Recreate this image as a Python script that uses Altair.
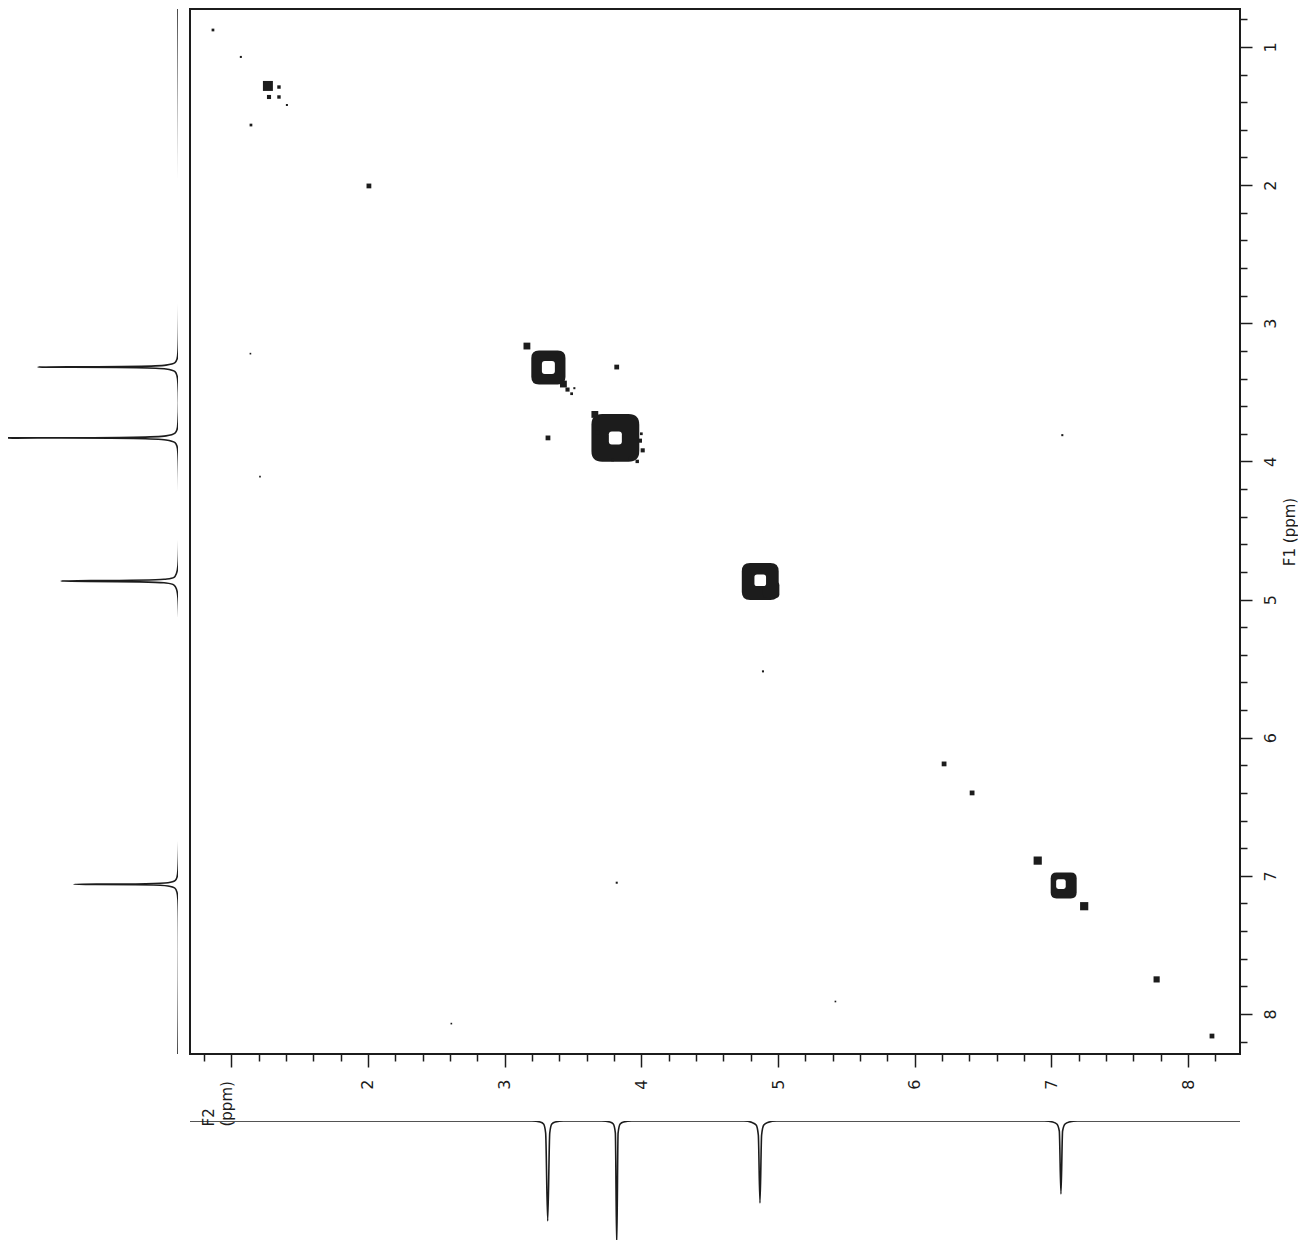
import altair as alt
import pandas as pd

# ---------------- axis ranges and ticks (ppm) ----------------
F2_DOMAIN = [0.698, 8.38]
F1_DOMAIN = [0.725, 8.29]
F2_TICKS = [0.8, 1.0, 1.2, 1.4, 1.6, 1.8, 2.0, 2.2, 2.4, 2.6, 2.8, 3.0, 3.2, 3.4, 3.6, 3.8,
            4.0, 4.2, 4.4, 4.6, 4.8, 5.0, 5.2, 5.4, 5.6, 5.8, 6.0, 6.2, 6.4, 6.6, 6.8, 7.0,
            7.2, 7.4, 7.6, 7.8, 8.0, 8.2]
F1_TICKS = [0.8, 1.0, 1.2, 1.4, 1.6, 1.8, 2.0, 2.2, 2.4, 2.6, 2.8, 3.0, 3.2, 3.4, 3.6, 3.8,
            4.0, 4.2, 4.4, 4.6, 4.8, 5.0, 5.2, 5.4, 5.6, 5.8, 6.0, 6.2, 6.4, 6.6, 6.8, 7.0,
            7.2, 7.4, 7.6, 7.8, 8.0, 8.2]

# ---------------- 2D contour peaks ----------------
# main diagonal peaks: outer contour
BLOB_F2 = [3.32, 3.81, 4.87, 7.09, 4.95]
BLOB_F1 = [3.32, 3.83, 4.87, 7.07, 4.93]
BLOB_EXT = [0.25, 0.35, 0.27, 0.19, 0.12]
# inner (white) holes of the contours
HOLE_F2 = [3.32, 3.81, 4.87, 7.07]
HOLE_F1 = [3.32, 3.83, 4.86, 7.06]
HOLE_EXT = [0.095, 0.095, 0.085, 0.07]

# small peaks / cross peaks / contour fragments
DOT_F2 = [1.268, 1.349, 1.276, 1.349, 1.407, 0.866, 1.07, 1.144, 2.007, 3.163,
          3.82, 3.317, 3.66, 3.43, 3.46, 3.49, 3.51, 3.99, 3.92, 3.79, 3.68, 4.00,
          7.08, 3.82, 4.89, 6.215, 6.42, 6.90, 7.24, 7.77, 8.175, 5.42, 2.61, 1.14, 1.21,
          4.01, 3.97]
DOT_F1 = [1.282, 1.29, 1.362, 1.362, 1.42, 0.877, 1.072, 1.565, 2.006, 3.165,
          3.317, 3.83, 3.66, 3.44, 3.48, 3.51, 3.47, 3.85, 3.98, 3.99, 3.79, 3.80,
          3.81, 7.05, 5.52, 6.19, 6.40, 6.89, 7.22, 7.75, 8.16, 7.91, 8.07, 3.22, 4.11,
          3.92, 4.00]
DOT_EXT = [0.073, 0.025, 0.03, 0.025, 0.015, 0.02, 0.015, 0.02, 0.035, 0.05,
           0.035, 0.035, 0.05, 0.05, 0.03, 0.02, 0.015, 0.03, 0.025, 0.02, 0.03, 0.02,
           0.015, 0.015, 0.015, 0.035, 0.035, 0.06, 0.06, 0.045, 0.035, 0.012, 0.012, 0.012, 0.012,
           0.03, 0.025]

# ---------------- 1D projections ----------------
# F2 projection (bottom trace): position (ppm) and deflection
BOT_F2 = [0.698, 3.20, 3.26, 3.285, 3.30, 3.315, 3.33, 3.345, 3.37, 3.43,
          3.71, 3.77, 3.795, 3.81, 3.82, 3.83, 3.845, 3.87, 3.93,
          4.75, 4.81, 4.84, 4.856, 4.868, 4.88, 4.896, 4.925, 4.99,
          6.95, 7.01, 7.04, 7.058, 7.07, 7.082, 7.10, 7.13, 7.19, 8.38]
BOT_INT = [0, 0, 1, 3, 12, 100, 12, 3, 1, 0,
           0, 1, 3, 12, 125, 12, 3, 1, 0,
           0, 1.5, 4, 14, 82, 14, 4, 1.5, 0,
           0, 1, 3, 10, 73, 10, 3, 1, 0, 0]

# F1 projection (left trace)
LEFT_F1 = [0.725, 3.20, 3.26, 3.285, 3.303, 3.317, 3.331, 3.35, 3.38, 3.44,
           3.71, 3.77, 3.795, 3.815, 3.83, 3.845, 3.865, 3.89, 3.95,
           4.75, 4.81, 4.84, 4.853, 4.866, 4.879, 4.895, 4.925, 4.99,
           6.95, 7.01, 7.035, 7.05, 7.062, 7.074, 7.09, 7.12, 7.18, 8.29]
LEFT_INT = [0, 0, 1, 3, 12, 140, 12, 3, 1, 0,
            0, 1, 3, 12, 175, 12, 3, 1, 0,
            0, 1.5, 4, 14, 117, 14, 4, 1.5, 0,
            0, 1, 3, 10, 104, 10, 3, 1, 0, 0]

# ---------------- build tables ----------------
blob_df = pd.DataFrame({"f2": BLOB_F2, "f1": BLOB_F1, "ext": BLOB_EXT})
hole_df = pd.DataFrame({"f2": HOLE_F2, "f1": HOLE_F1, "ext": HOLE_EXT})
dot_df = pd.DataFrame({"f2": DOT_F2, "f1": DOT_F1, "ext": DOT_EXT})
bot_df = pd.DataFrame({"f2": BOT_F2, "intensity": BOT_INT})
left_df = pd.DataFrame({"f1": LEFT_F1, "intensity": LEFT_INT})

INK = "#1c1c1c"
FONT = "DejaVu Sans"
ROUND_SQ = ("M-1,-0.55 Q-1,-1 -0.55,-1 L0.55,-1 Q1,-1 1,-0.55 L1,0.55 "
            "Q1,1 0.55,1 L-0.55,1 Q-1,1 -1,0.55 Z")

MAIN_W, MAIN_H = 1050, 1045
PX_PER_PPM = MAIN_W / (F2_DOMAIN[1] - F2_DOMAIN[0])

major_test = "abs(datum.value - round(datum.value)) < 0.01"

x_axis = alt.Axis(
    orient="bottom", values=F2_TICKS, tickCount=200, grid=False, domain=False,
    labelExpr=f"({major_test}) && round(datum.value) >= 2 ? format(round(datum.value), 'd') : ''",
    labelAngle=270, labelFont=FONT, labelFontSize=16, labelColor=INK,
    labelOverlap=False, labelFlush=False, labelPadding=12,
    tickColor=INK, tickWidth=1.5,
    tickSize={"condition": {"test": major_test, "value": 13}, "value": 7},
    title=["F2", "(ppm)"], titleAngle=270, titleAlign="left", titleBaseline="top",
    titleX=11, titleY=72, titleFont=FONT, titleFontSize=15, titleFontWeight="normal",
    titleColor=INK, titleLineHeight=18,
)
y_axis = alt.Axis(
    orient="right", values=F1_TICKS, tickCount=200, grid=False, domain=False,
    labelExpr=f"({major_test}) ? format(round(datum.value), 'd') : ''",
    labelAngle=270, labelFont=FONT, labelFontSize=16, labelColor=INK,
    labelOverlap=False, labelFlush=False, labelPadding=10,
    tickColor=INK, tickWidth=1.5,
    tickSize={"condition": {"test": major_test, "value": 12}, "value": 7},
    title="F1  (ppm)", titleAngle=270, titleFont=FONT, titleFontSize=15,
    titleFontWeight="normal", titleColor=INK, titlePadding=19,
)

xs = alt.Scale(domain=F2_DOMAIN, nice=False, zero=False)
ys = alt.Scale(domain=F1_DOMAIN, nice=False, zero=False, reverse=True)
size_scale = alt.Scale(type="pow", exponent=2, domain=[0, 1], range=[0, PX_PER_PPM ** 2], zero=True)

outer = alt.Chart(blob_df).mark_point(shape=ROUND_SQ, filled=True, color=INK, opacity=1, strokeWidth=0).encode(
    x=alt.X("f2:Q", scale=xs, axis=x_axis),
    y=alt.Y("f1:Q", scale=ys, axis=y_axis),
    size=alt.Size("ext:Q", scale=size_scale, legend=None),
)
holes = alt.Chart(hole_df).mark_point(shape=ROUND_SQ, filled=True, color="white", opacity=1, strokeWidth=0).encode(
    x=alt.X("f2:Q", scale=xs),
    y=alt.Y("f1:Q", scale=ys),
    size=alt.Size("ext:Q", scale=size_scale, legend=None),
)
dots = alt.Chart(dot_df).mark_square(color=INK, opacity=1, strokeWidth=0).encode(
    x=alt.X("f2:Q", scale=xs),
    y=alt.Y("f1:Q", scale=ys),
    size=alt.Size("ext:Q", scale=size_scale, legend=None),
)

main = alt.layer(outer, holes, dots).properties(
    width=MAIN_W, height=MAIN_H,
    view=alt.ViewBackground(stroke=INK, strokeWidth=2),
)

left = alt.Chart(left_df).mark_line(interpolate="catmull-rom", color=INK, strokeWidth=1.6, clip=True).encode(
    x=alt.X("intensity:Q", scale=alt.Scale(domain=[0, 170], reverse=True, nice=False, zero=False), axis=None),
    y=alt.Y("f1:Q", scale=alt.Scale(domain=F1_DOMAIN, reverse=True, nice=False, zero=False), axis=None),
    order=alt.Order("f1:Q"),
).properties(width=170, height=MAIN_H)

bottom = alt.Chart(bot_df).mark_line(interpolate="monotone", color=INK, strokeWidth=1.6, clip=True).encode(
    x=alt.X("f2:Q", scale=alt.Scale(domain=F2_DOMAIN, nice=False, zero=False), axis=None),
    y=alt.Y("intensity:Q", scale=alt.Scale(domain=[0, 120], reverse=True, nice=False, zero=False), axis=None),
    order=alt.Order("f2:Q"),
).properties(width=MAIN_W, height=120)

right_col = alt.vconcat(main, bottom, spacing=67, bounds="flush").resolve_scale(x="independent", y="independent")

chart = alt.hconcat(left, right_col, spacing=12, bounds="flush").resolve_scale(
    x="independent", y="independent"
).properties(padding=0, background="white").configure_view(stroke=None)

chart.save("out.html", embed_options={"renderer": "svg", "actions": False})
